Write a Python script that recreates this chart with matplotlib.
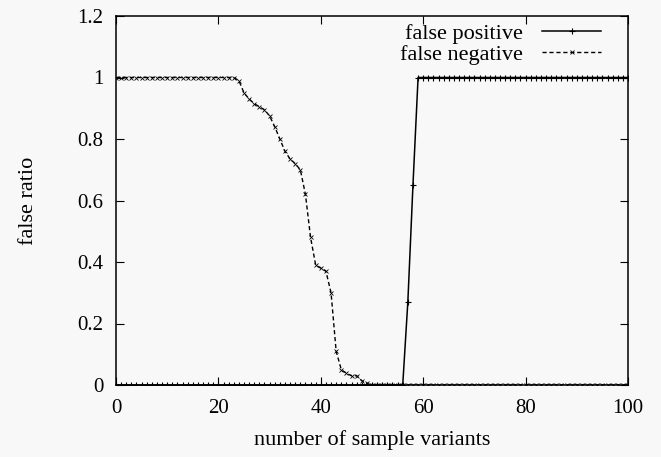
import matplotlib
matplotlib.use("Agg")
import matplotlib.pyplot as plt
import numpy as np

x_vals = list(range(0, 101))

# false positive ratio
fp_vals = [0.0] * 57 + [0.27, 0.65] + [1.0] * 42

# false negative ratio
fn_head = [1.0] * 24
fn_mid = [0.99, 0.95, 0.93, 0.915, 0.905, 0.895, 0.875, 0.84, 0.80, 0.76,
          0.735, 0.72, 0.70, 0.62, 0.48, 0.39, 0.38, 0.37, 0.30, 0.11,
          0.05, 0.038, 0.03, 0.03, 0.014, 0.005]
fn_vals = fn_head + fn_mid + [0.0] * (101 - len(fn_head) - len(fn_mid))

x_ticks = [0, 20, 40, 60, 80, 100]
y_ticks = [0, 0.2, 0.4, 0.6, 0.8, 1.0, 1.2]
y_tick_labels = ["0", "0.2", "0.4", "0.6", "0.8", "1", "1.2"]

plt.rcParams['font.family'] = ['Liberation Serif', 'DejaVu Serif']

W, H = 661, 457
fig = plt.figure(figsize=(W / 100, H / 100), dpi=100, facecolor='#f8f8f8')
ax = fig.add_axes([116 / W, 1 - 385 / H, (628 - 116) / W, (385 - 16) / H])
ax.set_facecolor('#f8f8f8')

ax.plot(x_vals, fp_vals, color='black', lw=1.1, marker='+', ms=5, mew=0.8,
        label='false positive')
ax.plot(x_vals, fn_vals, color='black', lw=1.0, ls=(0, (3, 2)), marker='x', ms=3.5,
        mew=0.6, label='false negative')

ax.set_xlim(0, 100)
ax.set_ylim(0, 1.2)
ax.set_xticks(x_ticks)
ax.set_yticks(y_ticks)
ax.set_yticklabels(y_tick_labels)
ax.tick_params(direction='in', length=6, width=0.8, top=True, right=True,
               labelsize=15, colors='black')
ax.tick_params(axis='y', pad=9)
ax.tick_params(axis='x', pad=10)
for s in ax.spines.values():
    s.set_linewidth(1.1)

ax.set_xlabel('number of sample variants', fontsize=16, labelpad=9)
ax.set_ylabel('false ratio', fontsize=16, labelpad=28)

leg = ax.legend(loc='upper right', frameon=False, fontsize=16, markerfirst=False,
                handlelength=2.65, borderaxespad=0, borderpad=0, labelspacing=0.02,
                handletextpad=0.85,
                bbox_to_anchor=(601 / W, 1 - 23 / H), bbox_transform=fig.transFigure)

fig.savefig('out.png', dpi=100, facecolor=fig.get_facecolor())
